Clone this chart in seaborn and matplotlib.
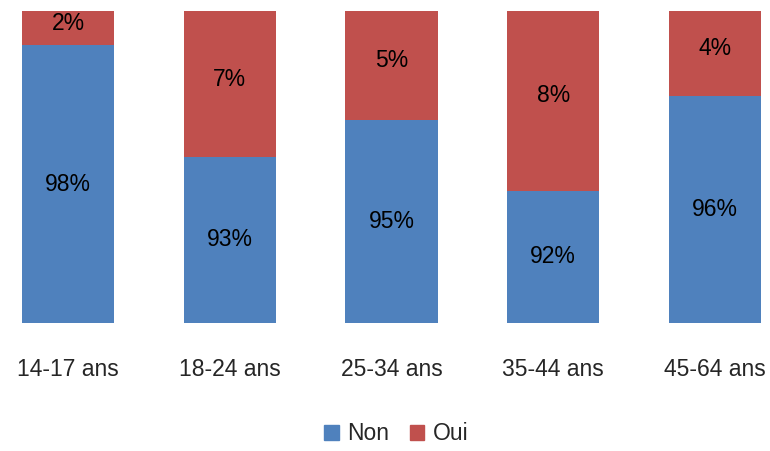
import numpy as np
import pandas as pd
import matplotlib.pyplot as plt
import seaborn as sns
from matplotlib.patches import Patch

tranches = ["14-17 ans", "18-24 ans", "25-34 ans", "35-44 ans", "45-64 ans"]
non = [98.47, 93.45, 95.11, 91.94, 96.19]
oui = [1.53, 6.55, 4.89, 8.06, 3.81]

bleu = "#4F81BD"
rouge = "#C0504D"

sns.set_style("white")
plt.rcParams['font.family'] = ['Liberation Sans', 'DejaVu Sans']

df = pd.DataFrame({"tranche": tranches, "non": non, "oui": oui})
df["total"] = df["non"] + df["oui"]

fig = plt.figure(figsize=(7.7, 4.51), dpi=100)
ax = fig.add_axes([22 / 770, 1 - 323 / 451, (761 - 22) / 770, (323 - 11) / 451])

# barres empilees : total en rouge puis Non en bleu par dessus
sns.barplot(data=df, x="tranche", y="total", color=rouge, width=0.57,
            saturation=1, linewidth=0, ax=ax)
sns.barplot(data=df, x="tranche", y="non", color=bleu, width=0.57,
            saturation=1, linewidth=0, ax=ax)

ymin, ymax = 86, 100
ax.set_ylim(ymin, ymax)
ax.set_xlim(-0.285, 4.285)

for i in range(len(tranches)):
    y_non = (ymin + non[i]) / 2
    y_oui = non[i] + oui[i] / 2 + 0.22
    ax.text(i, y_non, f"{non[i]:.0f}%", ha="center", va="center", fontsize=16.5, color="black")
    ax.text(i, y_oui, f"{oui[i]:.0f}%", ha="center", va="center", fontsize=16.5, color="black")

ax.set_xlabel("")
ax.set_ylabel("")
ax.set_yticks([])
ax.tick_params(axis="x", length=0, labelsize=16.5, pad=25)
sns.despine(ax=ax, left=True, bottom=True)

handles = [Patch(color=bleu, label="Non"), Patch(color=rouge, label="Oui")]
fig.legend(handles=handles, loc="center", bbox_to_anchor=(396 / 770, 1 - 434 / 451),
           ncol=2, frameon=False, fontsize=16.5, handlelength=0.65, handleheight=0.65,
           handletextpad=0.35, columnspacing=0.9)

fig.savefig("out.png", dpi=100)
